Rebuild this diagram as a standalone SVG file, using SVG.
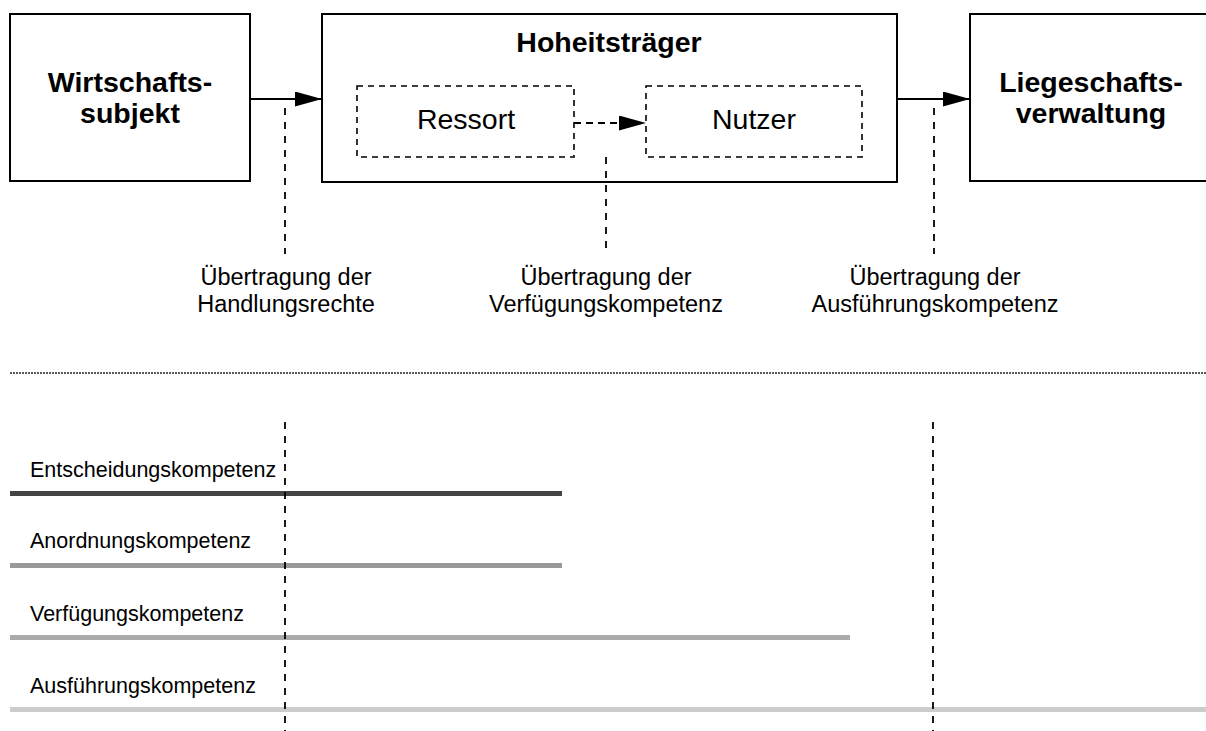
<svg xmlns="http://www.w3.org/2000/svg" width="1206" height="731" viewBox="0 0 1206 731">
  <style>
    .box { fill: #fff; stroke: #000; stroke-width: 2; }
    .sub { fill: none; stroke: #000; stroke-width: 1.6; stroke-dasharray: 6 5; }
    .head { font-family: "Liberation Sans", Arial, sans-serif; font-weight: bold; font-size: 28.5px; fill: #000; text-anchor: middle; }
    .inner { font-family: "Liberation Sans", Arial, sans-serif; font-size: 28.5px; fill: #000; text-anchor: middle; }
    .note { font-family: "Liberation Sans", Arial, sans-serif; font-size: 23.5px; fill: #000; text-anchor: middle; }
    .lbl { font-family: "Liberation Sans", Arial, sans-serif; font-size: 21.5px; fill: #000; }
    .flow { stroke: #000; stroke-width: 2; fill: none; }
    .flowdash { stroke: #000; stroke-width: 2; fill: none; stroke-dasharray: 7 5; }
    .cut { stroke: #000; stroke-width: 1.8; fill: none; stroke-dasharray: 7 7; }
    .bar { stroke-width: 5; fill: none; }
  </style>
  <defs>
    <marker id="arrow" viewBox="0 0 27 15" refX="27" refY="7.5" markerWidth="27" markerHeight="15" markerUnits="userSpaceOnUse" orient="auto">
      <path d="M0,0 L27,7.5 L0,15 Z" fill="#000"/>
    </marker>
  </defs>

  <rect width="1206" height="731" fill="#fff"/>

  <!-- actors -->
  <g id="wirtschaftssubjekt">
    <rect class="box" x="10" y="14" width="240" height="167"/>
    <text class="head" x="130" y="92">Wirtschafts-</text>
    <text class="head" x="130" y="123">subjekt</text>
  </g>

  <g id="hoheitstraeger">
    <rect class="box" x="322" y="14" width="575" height="168"/>
    <text class="head" x="609" y="52">Hoheitsträger</text>
  </g>

  <g id="ressort">
    <rect class="sub" x="357" y="86" width="217" height="71"/>
    <text class="inner" x="466" y="129">Ressort</text>
  </g>

  <g id="nutzer">
    <rect class="sub" x="646" y="86" width="216" height="71"/>
    <text class="inner" x="754" y="129">Nutzer</text>
  </g>

  <g id="liegenschaftsverwaltung">
    <rect class="box" x="970" y="14" width="250" height="167"/>
    <text class="head" x="1091" y="92">Liegeschafts-</text>
    <text class="head" x="1091" y="123">verwaltung</text>
  </g>

  <!-- transfers between actors -->
  <g id="connectors">
    <line class="flow" x1="250" y1="99" x2="322" y2="99" marker-end="url(#arrow)"/>
    <line class="flowdash" x1="574" y1="123" x2="646" y2="123" marker-end="url(#arrow)"/>
    <line class="flow" x1="897" y1="99" x2="970" y2="99" marker-end="url(#arrow)"/>

    <line class="cut" x1="285" y1="108" x2="285" y2="254"/>
    <line class="cut" x1="606" y1="157" x2="606" y2="251"/>
    <line class="cut" x1="934" y1="108" x2="934" y2="254"/>
  </g>

  <!-- transfer labels -->
  <g id="label-handlungsrechte">
    <text class="note" x="286" y="285">Übertragung der</text>
    <text class="note" x="286" y="312">Handlungsrechte</text>
  </g>
  <g id="label-verfuegung">
    <text class="note" x="606" y="285">Übertragung der</text>
    <text class="note" x="606" y="312">Verfügungskompetenz</text>
  </g>
  <g id="label-ausfuehrung">
    <text class="note" x="935" y="285">Übertragung der</text>
    <text class="note" x="935" y="312">Ausführungskompetenz</text>
  </g>

  <!-- separator -->
  <line x1="10" y1="373" x2="1206" y2="373" stroke="#222" stroke-width="1.5" stroke-dasharray="2 1"/>

  <!-- competence ranges -->
  <g id="competences">
    <text class="lbl" x="30" y="477">Entscheidungskompetenz</text>
    <line class="bar" x1="10" y1="493.5" x2="562" y2="493.5" stroke="#444"/>

    <text class="lbl" x="30" y="548">Anordnungskompetenz</text>
    <line class="bar" x1="10" y1="565.5" x2="562" y2="565.5" stroke="#999"/>

    <text class="lbl" x="30" y="621">Verfügungskompetenz</text>
    <line class="bar" x1="10" y1="637.5" x2="850" y2="637.5" stroke="#aaa"/>

    <text class="lbl" x="30" y="693">Ausführungskompetenz</text>
    <line class="bar" x1="10" y1="709.5" x2="1206" y2="709.5" stroke="#ccc"/>
  </g>

  <g id="boundaries">
    <line class="cut" x1="285" y1="422" x2="285" y2="731"/>
    <line class="cut" x1="933" y1="422" x2="933" y2="731"/>
  </g>
</svg>
